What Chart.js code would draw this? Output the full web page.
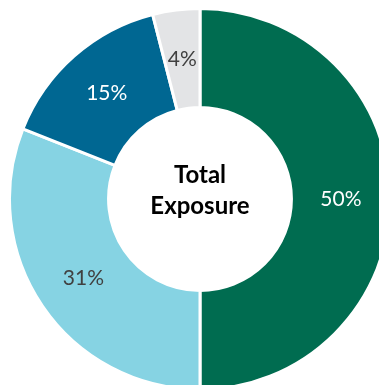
<!DOCTYPE html>
<html>
<head>
<meta charset="utf-8">
<script src="https://cdn.jsdelivr.net/npm/chart.js@4"></script>
<style>
  html, body { margin: 0; padding: 0; background: #fff; overflow: hidden; width: 379px; height: 385px; }
  #wrap { position: absolute; left: 8px; top: 7px; width: 384px; height: 384px; }
</style>
</head>
<body>
<div id="wrap"><canvas id="chart"></canvas></div>
<script>
const labels = ['A', 'B', 'C', 'D'];
const values = [50, 31, 15, 4];
const sliceColors = ['#006c50', '#86d3e3', '#006792', '#e3e4e6'];
const labelColors = ['#ffffff', '#404040', '#ffffff', '#404040'];
const centerLines = ['Total', 'Exposure'];

const sliceLabels = {
    id: 'sliceLabels',
    afterDatasetsDraw(chart) {
        const ctx = chart.ctx;
        const meta = chart.getDatasetMeta(0);
        ctx.save();
        ctx.font = '21px Lato';
        ctx.textAlign = 'center';
        ctx.textBaseline = 'middle';
        meta.data.forEach((arc, i) => {
            const p = arc.getCenterPoint();
            ctx.fillStyle = labelColors[i];
            ctx.fillText(values[i] + '%', p.x, p.y);
        });
        // center text
        const c = meta.data[0];
        ctx.fillStyle = '#000000';
        ctx.font = 'bold 24px Lato';
        ctx.textBaseline = 'alphabetic';
        ctx.fillText(centerLines[0], c.x, c.y - 16);
        ctx.fillText(centerLines[1], c.x, c.y + 14.5);
        ctx.restore();
    }
};

new Chart(document.getElementById('chart'), {
    type: 'doughnut',
    data: {
        labels: labels,
        datasets: [{
            data: values,
            backgroundColor: sliceColors,
            borderColor: '#ffffff',
            borderWidth: 3
        }]
    },
    options: {
        responsive: true,
        maintainAspectRatio: false,
        animation: false,
        cutout: '48%',
        layout: { padding: 0 },
        plugins: {
            legend: { display: false },
            tooltip: { enabled: false }
        }
    },
    plugins: [sliceLabels]
});
</script>
</body>
</html>
